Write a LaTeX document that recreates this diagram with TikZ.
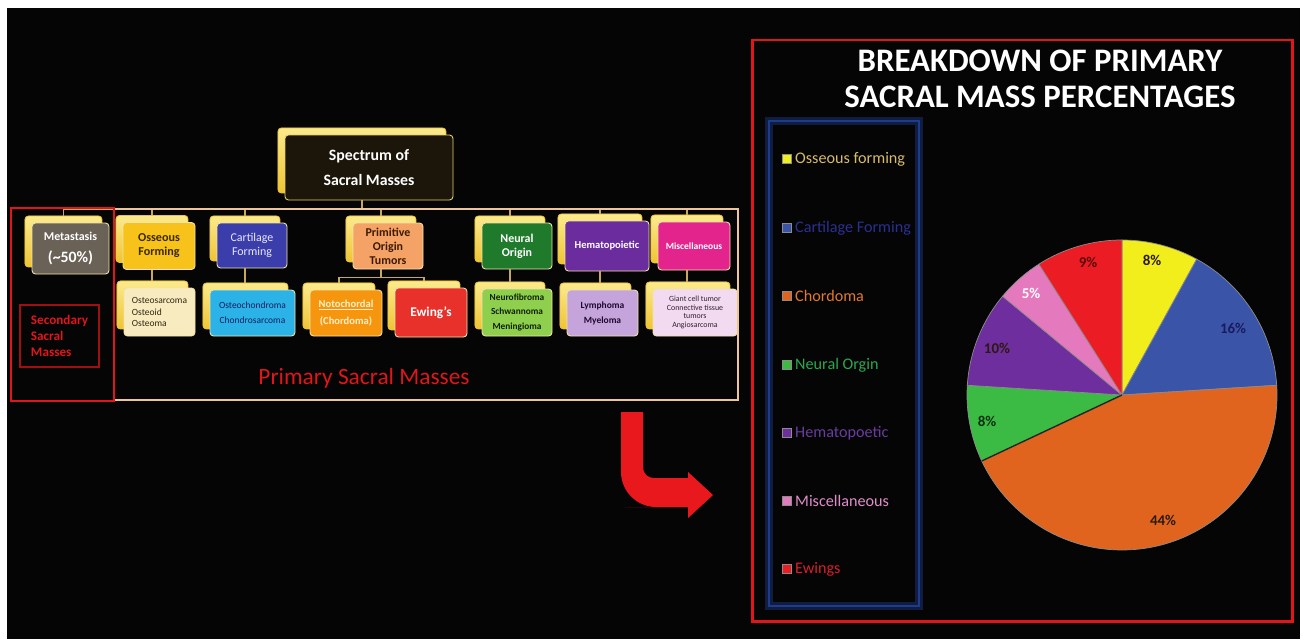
\documentclass[tikz,border=0pt]{standalone}
\usepackage{fontspec}
\setmainfont{Carlito}
\usetikzlibrary{shadows,positioning}

\definecolor{bgblack}{HTML}{050505}
\definecolor{backtop}{HTML}{FBEA8C}
\definecolor{backbot}{HTML}{EFC434}
\definecolor{boxedge}{HTML}{F3E3A8}
\definecolor{specfill}{HTML}{1C160A}
\definecolor{spectrim}{HTML}{E8D070}
\definecolor{metafill}{HTML}{6B6257}
\definecolor{ossfill}{HTML}{F7C21A}
\definecolor{osstext}{HTML}{3A2A00}
\definecolor{cartfill}{HTML}{3B3DAB}
\definecolor{carttext}{HTML}{E8E8FF}
\definecolor{primfill}{HTML}{F4A265}
\definecolor{primtext}{HTML}{3A1A00}
\definecolor{neurfill}{HTML}{1F7A2C}
\definecolor{hemafill}{HTML}{6B2C9E}
\definecolor{miscfill}{HTML}{E2248C}
\definecolor{osssub}{HTML}{F8EBC0}
\definecolor{osssubtext}{HTML}{302810}
\definecolor{cartsub}{HTML}{2BB2E6}
\definecolor{cartsubtext}{HTML}{102060}
\definecolor{notofill}{HTML}{F6960F}
\definecolor{nototext}{HTML}{FFF0C8}
\definecolor{ewingfill}{HTML}{E8312A}
\definecolor{neursub}{HTML}{8ECF4E}
\definecolor{neursubtext}{HTML}{102000}
\definecolor{hemasub}{HTML}{C4A4DA}
\definecolor{hemasubtext}{HTML}{200830}
\definecolor{miscsub}{HTML}{F2DAF0}
\definecolor{miscsubtext}{HTML}{302030}
\definecolor{linkc}{HTML}{C8A860}
\definecolor{tanframe}{HTML}{EEC49A}
\definecolor{frred}{HTML}{E0161B}
\definecolor{secdark}{HTML}{A01010}
\definecolor{secred}{HTML}{E0161B}
\definecolor{arrowred}{HTML}{E8181C}
\definecolor{legblue}{HTML}{1E3C8C}
\definecolor{piegray}{HTML}{8C8C8C}
\definecolor{pieyel}{HTML}{F2EE1C}
\definecolor{pieblue}{HTML}{3A55A8}
\definecolor{pieorg}{HTML}{E0641E}
\definecolor{piegrn}{HTML}{3CBB44}
\definecolor{piepur}{HTML}{6E2E9E}
\definecolor{piepink}{HTML}{E579BE}
\definecolor{piered}{HTML}{EC1C24}
\definecolor{legoss}{HTML}{D8BC6A}
\definecolor{legcart}{HTML}{2A3090}
\definecolor{legchor}{HTML}{E07A30}
\definecolor{legneur}{HTML}{2AA850}
\definecolor{leghema}{HTML}{6A3CA0}
\definecolor{legmisc}{HTML}{E08CC8}
\definecolor{legewing}{HTML}{D81E2E}
\definecolor{pctdark}{HTML}{2A1A10}
\definecolor{pctnavy}{HTML}{1A1A60}
\definecolor{pctgreen}{HTML}{0A3010}
\definecolor{pctred}{HTML}{5A0A0A}

\newcommand{\fsz}[2]{\fontsize{#1}{#2}\selectfont}
\newcommand{\pieslice}[3]{\filldraw[fill=#3, draw=piegray, line width=0.4pt] (0,0) -- (#1:155) arc[start angle=#1, end angle=#2, radius=155] -- cycle;}

\tikzset{
  catbox/.style={rectangle, rounded corners=2pt, draw=boxedge, line width=0.5pt, align=center, inner sep=1pt,
    copy shadow={shadow xshift=-4pt, shadow yshift=4pt, top color=backtop, bottom color=backbot, draw=backbot}},
  boxsize/.style 2 args={minimum width=#1*0.02cm, minimum height=#2*0.02cm},
  link/.style={draw=linkc, line width=0.9pt},
  legsq/.style={draw=piegray, line width=0.4pt, minimum size=0.18cm, inner sep=0pt},
  legtxt/.style={font=\fsz{9.2}{11}, inner sep=0pt},
  pct/.style={font=\fsz{8.5}{10}\bfseries, inner sep=0pt},
}

\begin{document}
\begin{tikzpicture}[x=0.02cm, y=-0.02cm]
  \useasboundingbox (0,0) rectangle (1305,639);
  \fill[white] (0,0) rectangle (1305,639);
  \fill[bgblack] (7,8) rectangle (1300,639);

  % spectrum tree
  \node[catbox, boxsize={168}{65}, fill=specfill, draw=spectrim, text=white, font=\fsz{9}{14}\bfseries] (spec) at (369,167.5) {Spectrum of\\Sacral Masses};

  \node[catbox, boxsize={77}{51}, fill=metafill, text=white, font=\fsz{9}{12}\bfseries] (meta) at (70.5,248.5) {{\fsz{6.8}{8}Metastasis}\\(\textasciitilde50\%)};
  \node[catbox, boxsize={72}{47}, fill=ossfill, text=osstext, font=\fsz{6.9}{8}\bfseries] (oss) at (159,246) {Osseous\\Forming};
  \node[catbox, boxsize={70}{45}, fill=cartfill, text=carttext, font=\fsz{6.8}{8}] (cart) at (252,245.5) {Cartilage\\Forming};
  \node[catbox, boxsize={70}{46}, fill=primfill, text=primtext, font=\fsz{6.8}{8}\bfseries] (prim) at (388,246) {Primitive\\Origin\\Tumors};
  \node[catbox, boxsize={70}{46}, fill=neurfill, text=white, font=\fsz{6.8}{8}\bfseries] (neur) at (517,246) {Neural\\Origin};
  \node[catbox, boxsize={84}{50}, fill=hemafill, text=white, font=\fsz{6}{7}\bfseries] (hema) at (607,246) {Hematopoietic};
  \node[catbox, boxsize={72}{48}, fill=miscfill, text=white, font=\fsz{5.4}{6.5}\bfseries] (misc) at (694,246) {Miscellaneous};

  \node[catbox, boxsize={71}{48}, fill=osssub, text=osssubtext, font=\fsz{5.4}{6.3}, align=left] (osssub) at (159.5,312) {Osteosarcoma\\Osteoid\\Osteoma};
  \node[catbox, boxsize={85}{46}, fill=cartsub, text=cartsubtext, font=\fsz{5.4}{8.5}] (cartsub) at (252.5,313) {Osteochondroma\\Chondrosarcoma};
  \node[catbox, boxsize={72}{46}, fill=notofill, text=nototext, font=\fsz{6}{10}\bfseries] (noto) at (346,313) {\underline{Notochordal}\\(Chordoma)};
  \node[catbox, boxsize={72}{49}, fill=ewingfill, text=white, font=\fsz{7.6}{9}\bfseries] (ewing) at (431,312.5) {Ewing's};
  \node[catbox, boxsize={70}{47}, fill=neursub, text=neursubtext, font=\fsz{5.3}{8.2}\bfseries] (neursub) at (517,312.5) {Neurofibroma\\Schwannoma\\Meningioma};
  \node[catbox, boxsize={71}{46}, fill=hemasub, text=hemasubtext, font=\fsz{5.4}{8.5}\bfseries] (hemasub) at (602.5,313) {Lymphoma\\Myeloma};
  \node[catbox, boxsize={84}{47}, fill=miscsub, text=miscsubtext, font=\fsz{4.5}{5}] (miscsub) at (695,312.5) {Giant cell tumor\\Connective tissue\\tumors\\Angiosarcoma};

  % connectors
  \coordinate (bus) at (0,209);
  \coordinate (split) at ([shift={(-4pt,-4.5pt)}]prim.south);
  \draw[link] ([xshift=-4pt]meta.north |- bus) -- ([xshift=-4pt]misc.north |- bus);
  \draw[link] ([xshift=-4pt]spec.south) -- ([xshift=-4pt]spec.south |- bus);
  \foreach \n in {meta,oss,cart,prim,neur,hema,misc}
    \draw[link] ([shift={(-4pt,4pt)}]\n.north) -- ([xshift=-4pt]\n.north |- bus);
  \foreach \n in {osssub,cartsub,noto,ewing,neursub,hemasub,miscsub}
    \coordinate (\n-t) at ([shift={(-4pt,4pt)}]\n.north);
  \foreach \a/\b in {oss/osssub,cart/cartsub,neur/neursub,hema/hemasub,misc/miscsub}
    \draw[link] ([xshift=-4pt]\a.south) -- ([xshift=-4pt]\a.south |- \b-t);
  \draw[link] ([xshift=-4pt]prim.south) -- (split);
  \draw[link] (noto-t) |- (split) -| (ewing-t);

  % frames
  \draw[draw=tanframe, line width=1.1pt] (114,209) rectangle (738,400);
  \draw[draw=frred, line width=1.7pt] (11,208) rectangle (114,401);
  \node[draw=secdark, line width=0.6pt, text=secred, font=\fsz{7.5}{9}\bfseries, align=left, boxsize={79}{62}] (sec) at (59.5,336) {Secondary\\Sacral\\Masses};
  \node[text=secred, font=\fsz{13.3}{16}] (primlbl) at (364,378) {Primary Sacral Masses};

  % bent arrow
  \fill[arrowred] (621,440) [rounded corners=20pt] -- (621,507) -- (660,507) [sharp corners] -- (688,507) -- (688,518) -- (713,495) -- (688,472) -- (688,478) -- (665,478) [rounded corners=6pt] -- (643,478) -- (643,455) [sharp corners] -- (643,412) -- (621,412) -- cycle;

  % chart panel
  \draw[draw=frred, line width=1.7pt] (752,40) rectangle (1292,621);
  \node[text=white, font=\fsz{18.7}{20.4}\bfseries, align=center] (title) at (1040,79) {BREAKDOWN OF PRIMARY\\SACRAL MASS PERCENTAGES};

  \draw[draw=legblue, line width=4pt, opacity=0.45] (769,121) rectangle (919,606);
  \draw[draw=legblue, line width=1.2pt] (769,121) rectangle (919,606);
  \foreach \y/\c/\tc/\t [count=\i] in {159/pieyel/legoss/Osseous forming, 228/pieblue/legcart/Cartilage Forming, 296/pieorg/legchor/Chordoma, 365/piegrn/legneur/Neural Orgin, 433/piepur/leghema/Hematopoetic, 501/piepink/legmisc/Miscellaneous, 569/piered/legewing/Ewings}{
    \node[legsq, fill=\c] (sq\i) at (786.5,\y) {};
    \node[legtxt, text=\tc, right=2pt of sq\i] (leg\i) {\t};
  }

  \begin{scope}[shift={(1122,395)}, x=0.02cm, y=0.02cm]
    \pieslice{90}{61.2}{pieyel}
    \pieslice{61.2}{3.6}{pieblue}
    \pieslice{3.6}{-154.8}{pieorg}
    \pieslice{-154.8}{-183.6}{piegrn}
    \pieslice{176.4}{140.4}{piepur}
    \pieslice{140.4}{122.4}{piepink}
    \pieslice{122.4}{90}{piered}
    \draw[black!85, line width=0.8pt] (0,0) -- (-154.8:155);
  \end{scope}

  \node[pct, text=pctdark] (p1) at (1152,260) {8\%};
  \node[pct, text=pctnavy] (p2) at (1233,328) {16\%};
  \node[pct, text=pctdark] (p3) at (1163,520) {44\%};
  \node[pct, text=pctgreen] (p4) at (987,421) {8\%};
  \node[pct, text=pctdark] (p5) at (997,348) {10\%};
  \node[pct, text=white] (p6) at (1031,293) {5\%};
  \node[pct, text=pctred] (p7) at (1088,262) {9\%};
\end{tikzpicture}
\end{document}
